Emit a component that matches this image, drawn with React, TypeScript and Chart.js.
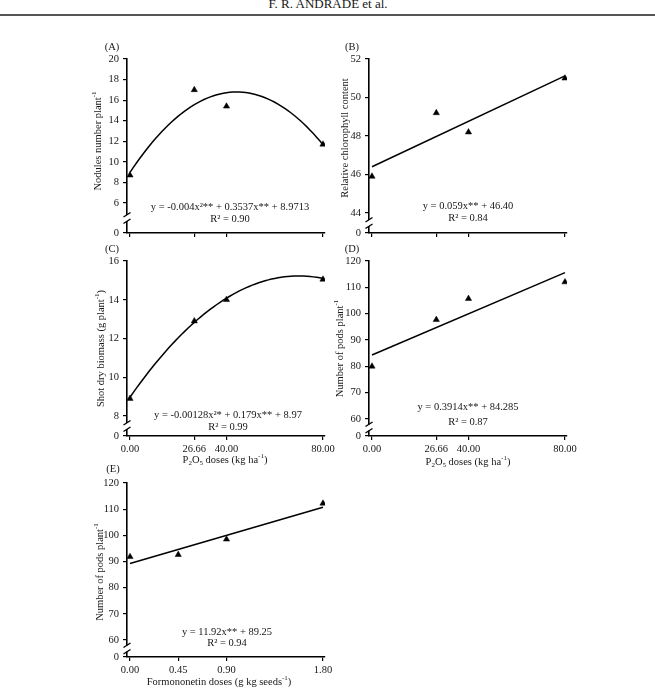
import { useEffect, useRef } from "react";
import { Chart, registerables } from "chart.js";

Chart.register(...registerables);

// ---------- data ----------
const P2O5_DOSES = [0, 26.66, 40, 80];
const P2O5_LABELS = ["0.00", "26.66", "40.00", "80.00"];
const FORMO_DOSES = [0, 0.45, 0.9, 1.8];
const FORMO_LABELS = ["0.00", "0.45", "0.90", "1.80"];

const NODULES = [8.7, 17.0, 15.4, 11.7];
const CHLOROPHYLL = [45.9, 49.2, 48.2, 51.0];
const SHOOT_BIOMASS = [8.9, 12.9, 14.0, 15.05];
const PODS_P2O5 = [80.0, 97.7, 105.7, 112.0];
const PODS_FORMO = [91.8, 92.6, 98.5, 112.2];

// regression coefficients as printed on each panel: [c0, c1, c2]
const FIT_A = [8.9713, 0.3537, -0.004];
const FIT_B = [46.4, 0.059];
const FIT_C = [8.97, 0.179, -0.00128];
const FIT_D = [84.285, 0.3914];
const FIT_E = [89.25, 11.92];

const Y_TICKS_A = [6, 8, 10, 12, 14, 16, 18, 20];
const Y_TICKS_B = [44, 46, 48, 50, 52];
const Y_TICKS_C = [8, 10, 12, 14, 16];
const Y_TICKS_D = [60, 70, 80, 90, 100, 110, 120];
const Y_TICKS_E = [60, 70, 80, 90, 100, 110, 120];

const EQ_A = ["y = -0.004x²** + 0.3537x** + 8.9713", "R² = 0.90"];
const EQ_B = ["y = 0.059x** + 46.40", "R² = 0.84"];
const EQ_C = ["y = -0.00128x²* + 0.179x** + 8.97", "R² = 0.99"];
const EQ_D = ["y = 0.3914x** + 84.285", "R² = 0.87"];
const EQ_E = ["y = 11.92x** + 89.25", "R² = 0.94"];

// ---------- helpers ----------
type Seg = { t: string; s?: "sup" | "sub" };

const FONT_FAMILY = '"Liberation Serif", "Times New Roman", serif';
const TEXT_COLOR = "#161616";
const FS = 10.5;

function drawRich(ctx: CanvasRenderingContext2D, segs: Seg[], x: number, y: number, size: number) {
  const base = `${size}px ${FONT_FAMILY}`;
  const small = `${Math.round(size * 0.7)}px ${FONT_FAMILY}`;
  let w = 0;
  for (const s of segs) {
    ctx.font = s.s ? small : base;
    w += ctx.measureText(s.t).width;
  }
  let cx = x - w / 2;
  ctx.textAlign = "left";
  ctx.textBaseline = "middle";
  for (const s of segs) {
    ctx.font = s.s ? small : base;
    const dy = s.s === "sup" ? -size * 0.32 : s.s === "sub" ? size * 0.28 : 0;
    ctx.fillText(s.t, cx, y + dy);
    cx += ctx.measureText(s.t).width;
  }
}

function evalPoly(c: number[], x: number) {
  let v = 0;
  for (let i = c.length - 1; i >= 0; i--) v = v * x + c[i];
  return v;
}

function fitPoints(c: number[], x0: number, x1: number) {
  const n = c.length > 2 ? 60 : 1;
  const pts: { x: number; y: number }[] = [];
  for (let i = 0; i <= n; i++) {
    const x = x0 + ((x1 - x0) * i) / n;
    pts.push({ x, y: evalPoly(c, x) });
  }
  return pts;
}

interface PanelSpec {
  id: string;
  label: string;
  labelDx: number;
  labelDy: number;
  area: { left: number; top: number; right: number; bottom: number };
  xAxisH: number;
  xMin: number;
  xMax: number;
  yMin: number;
  yMax: number;
  xs: number[];
  xLabels: string[];
  showXLabels: boolean;
  ys: number[];
  yTicks: number[];
  fit: number[];
  eq: string[];
  eqDx: number;
  eqDy: number[];
  yTitle: Seg[];
  yTitleDx: number;
  yTitleDy: number;
  xTitle?: Seg[];
  xTitleDx?: number;
  xTitleDy?: number;
}

const Y_W = 60;
const PAD_T = 25;
const PAD_R = 20;

const P2O5_TITLE: Seg[] = [
  { t: "P" },
  { t: "2", s: "sub" },
  { t: "O" },
  { t: "5", s: "sub" },
  { t: " doses (kg ha" },
  { t: "-1", s: "sup" },
  { t: ")" },
];

const PANELS: PanelSpec[] = [
  {
    id: "A",
    label: "(A)",
    labelDx: -15,
    labelDy: -12,
    area: { left: 127, top: 59, right: 325, bottom: 233 },
    xAxisH: 12,
    xMin: -1.24,
    xMax: 80.83,
    yMin: 3.08,
    yMax: 20,
    xs: P2O5_DOSES,
    xLabels: P2O5_LABELS,
    showXLabels: false,
    ys: NODULES,
    yTicks: Y_TICKS_A,
    fit: FIT_A,
    eq: EQ_A,
    eqDx: 4,
    eqDy: [-26, -14],
    yTitle: [{ t: "Nodules number plant" }, { t: "-1", s: "sup" }],
    yTitleDx: -29,
    yTitleDy: -5,
  },
  {
    id: "B",
    label: "(B)",
    labelDx: -17,
    labelDy: -12,
    area: { left: 369, top: 59, right: 567, bottom: 233 },
    xAxisH: 12,
    xMin: -1.24,
    xMax: 80.83,
    yMin: 42.96,
    yMax: 52,
    xs: P2O5_DOSES,
    xLabels: P2O5_LABELS,
    showXLabels: false,
    ys: CHLOROPHYLL,
    yTicks: Y_TICKS_B,
    fit: FIT_B,
    eq: EQ_B,
    eqDx: 0,
    eqDy: [-27, -15],
    yTitle: [{ t: "Relative chlorophyll content" }],
    yTitleDx: -24,
    yTitleDy: -8,
  },
  {
    id: "C",
    label: "(C)",
    labelDx: -15,
    labelDy: -12,
    area: { left: 127, top: 261, right: 325, bottom: 436 },
    xAxisH: 40,
    xMin: -1.24,
    xMax: 80.83,
    yMin: 6.97,
    yMax: 16,
    xs: P2O5_DOSES,
    xLabels: P2O5_LABELS,
    showXLabels: true,
    ys: SHOOT_BIOMASS,
    yTicks: Y_TICKS_C,
    fit: FIT_C,
    eq: EQ_C,
    eqDx: 2,
    eqDy: [-21, -9],
    yTitle: [{ t: "Shot dry biomass (g plant" }, { t: "-1", s: "sup" }, { t: ")" }],
    yTitleDx: -26,
    yTitleDy: 0,
    xTitle: P2O5_TITLE,
    xTitleDx: -1,
    xTitleDy: 24,
  },
  {
    id: "D",
    label: "(D)",
    labelDx: -17,
    labelDy: -12,
    area: { left: 369, top: 261, right: 567, bottom: 436 },
    xAxisH: 40,
    xMin: -1.24,
    xMax: 80.83,
    yMin: 53.54,
    yMax: 120,
    xs: P2O5_DOSES,
    xLabels: P2O5_LABELS,
    showXLabels: true,
    ys: PODS_P2O5,
    yTicks: Y_TICKS_D,
    fit: FIT_D,
    eq: EQ_D,
    eqDx: 0,
    eqDy: [-29, -14],
    yTitle: [{ t: "Number of pods plant" }, { t: "-1", s: "sup" }],
    yTitleDx: -29,
    yTitleDy: 0,
    xTitle: P2O5_TITLE,
    xTitleDx: 0,
    xTitleDy: 26,
  },
  {
    id: "E",
    label: "(E)",
    labelDx: -14,
    labelDy: -14,
    area: { left: 127, top: 483, right: 325, bottom: 657 },
    xAxisH: 31,
    xMin: -0.028,
    xMax: 1.8187,
    yMin: 53.5,
    yMax: 120,
    xs: FORMO_DOSES,
    xLabels: FORMO_LABELS,
    showXLabels: true,
    ys: PODS_FORMO,
    yTicks: Y_TICKS_E,
    fit: FIT_E,
    eq: EQ_E,
    eqDx: 1,
    eqDy: [-25, -14],
    yTitle: [{ t: "Number of pods plant" }, { t: "-1", s: "sup" }],
    yTitleDx: -27,
    yTitleDy: 2,
    xTitle: [{ t: "Formononetin doses (g kg seeds" }, { t: "-1", s: "sup" }, { t: ")" }],
    xTitleDx: -7,
    xTitleDy: 25,
  },
];

function makeDecor(spec: PanelSpec) {
  return {
    id: "decor" + spec.id,
    afterDraw(chart: any) {
      const ctx: CanvasRenderingContext2D = chart.ctx;
      const a = chart.chartArea;
      const yScale = chart.scales.y;
      ctx.save();
      // axis break
      const ax = a.left;
      const lowTick = yScale.getPixelForValue(spec.yTicks[0]);
      const yb = (lowTick + a.bottom) / 2;
      ctx.fillStyle = "#ffffff";
      ctx.fillRect(ax - 2, yb - 3, 4, 6);
      ctx.strokeStyle = "#000";
      ctx.lineWidth = 1.4;
      ctx.beginPath();
      ctx.moveTo(ax - 3.5, yb - 1);
      ctx.lineTo(ax + 3.5, yb - 5.5);
      ctx.moveTo(ax - 3.5, yb + 5.5);
      ctx.lineTo(ax + 3.5, yb + 1);
      ctx.stroke();

      ctx.fillStyle = TEXT_COLOR;
      // panel label
      drawRich(ctx, [{ t: spec.label }], a.left + spec.labelDx, a.top + spec.labelDy, FS);
      // equation
      const cx = (a.left + a.right) / 2;
      spec.eq.forEach((line, i) => {
        drawRich(ctx, [{ t: line }], cx + spec.eqDx, a.bottom + spec.eqDy[i], FS);
      });
      // y title
      ctx.save();
      ctx.translate(a.left + spec.yTitleDx, (a.top + a.bottom) / 2 + spec.yTitleDy);
      ctx.rotate(-Math.PI / 2);
      drawRich(ctx, spec.yTitle, 0, 0, FS);
      ctx.restore();
      // x title
      if (spec.xTitle) {
        drawRich(ctx, spec.xTitle, cx + (spec.xTitleDx || 0), a.bottom + (spec.xTitleDy || 0), FS);
      }
      ctx.restore();
    },
  };
}

function Panel({ spec }: { spec: PanelSpec }) {
  const ref = useRef<HTMLCanvasElement>(null);
  const w = spec.area.right - spec.area.left + Y_W + PAD_R;
  const h = spec.area.bottom - spec.area.top + PAD_T + spec.xAxisH;

  useEffect(() => {
    const font = { family: FONT_FAMILY, size: FS };
    const points = spec.xs.map((x, i) => ({ x, y: spec.ys[i] }));
    const x0 = spec.xs[0];
    const x1 = spec.xs[spec.xs.length - 1];
    const chart = new Chart(ref.current as HTMLCanvasElement, {
      type: "scatter",
      data: {
        datasets: [
          {
            data: points,
            pointStyle: "triangle",
            pointRadius: 3.6,
            backgroundColor: "#000",
            borderColor: "#000",
            borderWidth: 0.5,
          },
          {
            data: fitPoints(spec.fit, x0, x1),
            showLine: true,
            pointRadius: 0,
            borderColor: "#000",
            borderWidth: 1.5,
            tension: 0,
            fill: false,
          },
        ],
      } as any,
      options: {
        animation: false,
        responsive: false,
        devicePixelRatio: 1,
        events: [],
        layout: { padding: { left: 0, top: PAD_T, right: PAD_R, bottom: 0 } },
        plugins: { legend: { display: false }, tooltip: { enabled: false } },
        scales: {
          x: {
            type: "linear",
            min: spec.xMin,
            max: spec.xMax,
            bounds: "data",
            afterBuildTicks: (s: any) => {
              s.ticks = spec.xs.map((v) => ({ value: v }));
            },
            afterFit: (s: any) => {
              s.height = spec.xAxisH;
            },
            ticks: {
              display: spec.showXLabels,
              autoSkip: false,
              maxRotation: 0,
              padding: 3,
              font,
              color: TEXT_COLOR,
              callback: (_v: any, i: number) => spec.xLabels[i],
            },
            grid: {
              display: true,
              drawOnChartArea: false,
              drawTicks: true,
              tickLength: 4,
              color: "#000",
              lineWidth: 1.2,
            },
            border: { display: true, color: "#000", width: 1.6 },
          },
          y: {
            type: "linear",
            min: spec.yMin,
            max: spec.yMax,
            bounds: "data",
            afterBuildTicks: (s: any) => {
              s.ticks = [spec.yMin, ...spec.yTicks].map((v) => ({ value: v }));
            },
            afterFit: (s: any) => {
              s.width = Y_W;
            },
            ticks: {
              autoSkip: false,
              padding: 4,
              font,
              color: TEXT_COLOR,
              callback: (v: any, i: number) => (i === 0 ? "0" : String(v)),
            },
            grid: {
              display: true,
              drawOnChartArea: false,
              drawTicks: true,
              tickLength: 4,
              color: "#000",
              lineWidth: 1.2,
            },
            border: { display: true, color: "#000", width: 1.6 },
          },
        },
      } as any,
      plugins: [makeDecor(spec)],
    });
    return () => chart.destroy();
  }, []);

  return (
    <canvas
      ref={ref}
      width={w}
      height={h}
      style={{
        position: "absolute",
        left: spec.area.left - Y_W,
        top: spec.area.top - PAD_T,
        width: w,
        height: h,
      }}
    />
  );
}

export default function App() {
  return (
    <div
      style={{
        position: "absolute",
        left: 0,
        top: 0,
        width: 655,
        height: 688,
        overflow: "hidden",
        background: "#fff",
      }}
    >
      <div
        style={{
          position: "absolute",
          left: 228,
          top: -4,
          width: 200,
          textAlign: "center",
          font: `13px ${FONT_FAMILY}`,
          color: TEXT_COLOR,
          whiteSpace: "nowrap",
        }}
      >
        F. R. ANDRADE et al.
      </div>
      <div
        style={{
          position: "absolute",
          left: 0,
          top: 14,
          width: 655,
          height: 2,
          background: "#555",
        }}
      />
      {PANELS.map((p) => (
        <Panel key={p.id} spec={p} />
      ))}
    </div>
  );
}
